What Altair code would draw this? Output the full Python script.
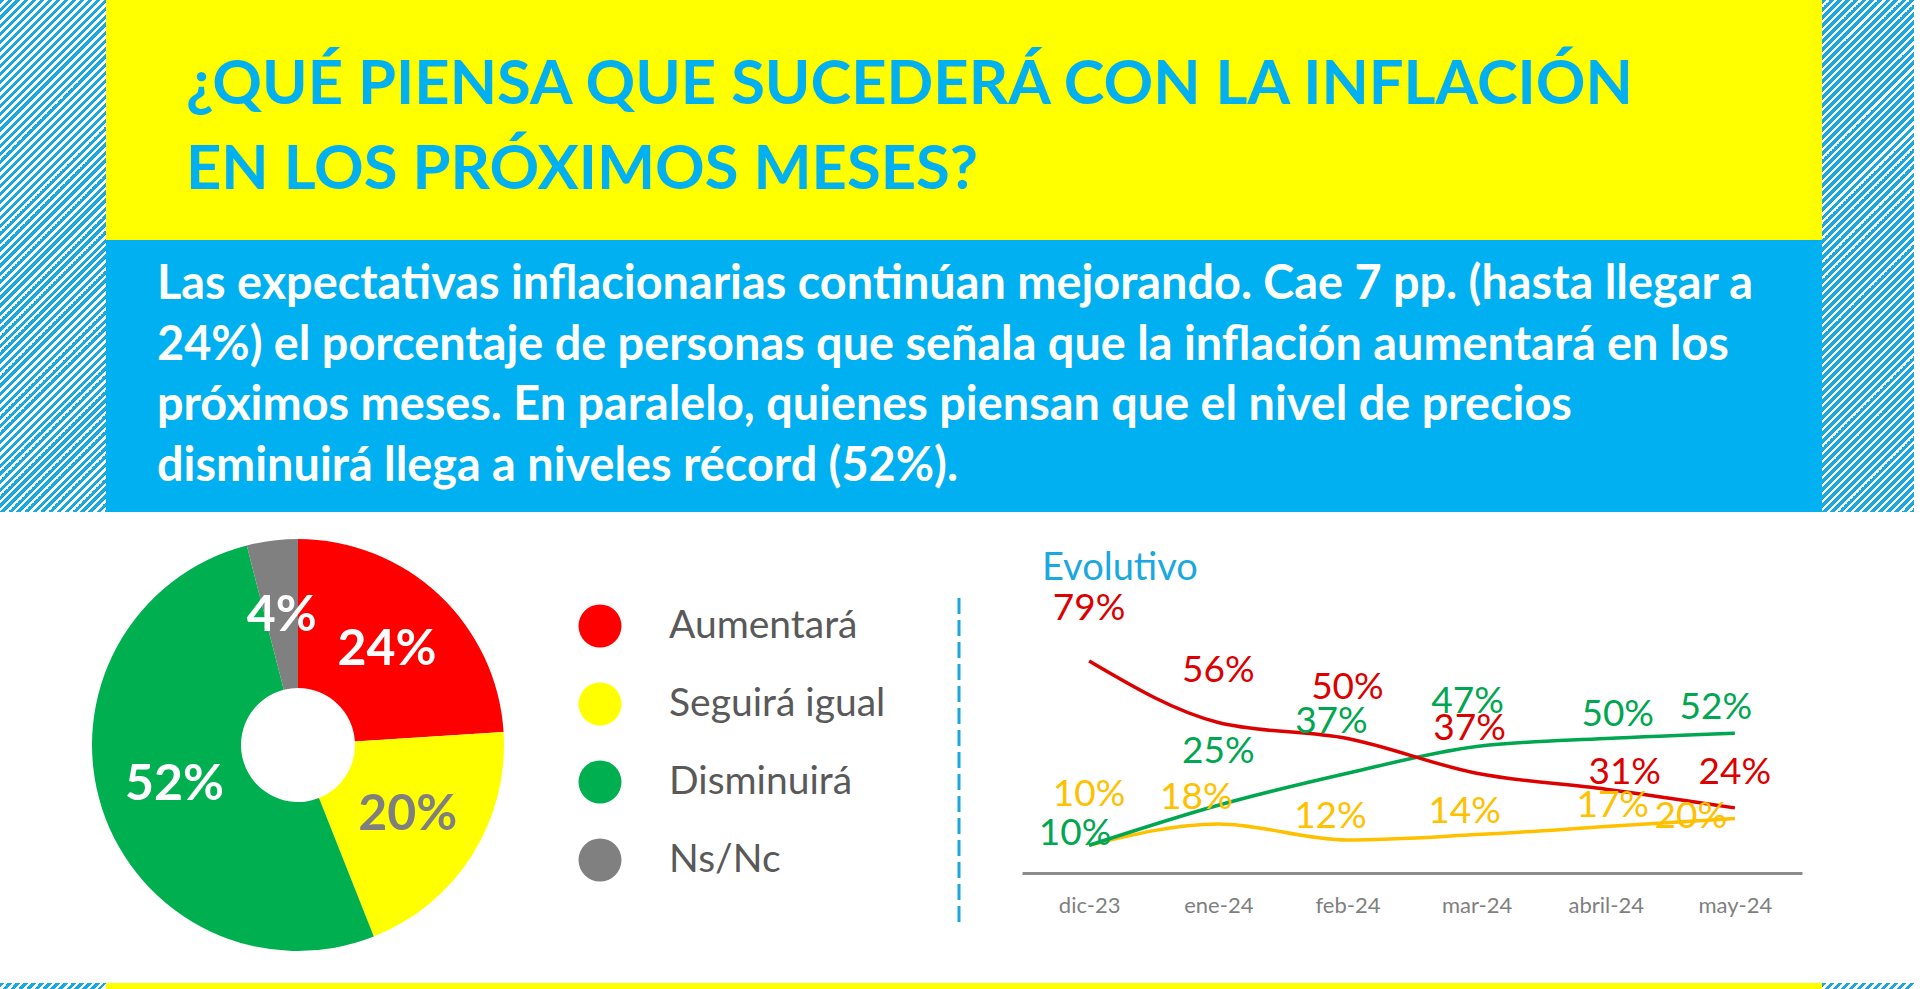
import altair as alt
import pandas as pd

# ---------------- data ----------------
title_lines = ["¿QUÉ PIENSA QUE SUCEDERÁ CON LA INFLACIÓN", "EN LOS PRÓXIMOS MESES?"]
body_lines = [
    "Las expectativas inflacionarias continúan mejorando. Cae 7 pp. (hasta llegar a",
    "24%) el porcentaje de personas que señala que la inflación aumentará en los",
    "próximos meses. En paralelo, quienes piensan que el nivel de precios",
    "disminuirá llega a niveles récord (52%).",
]

pie_categories = ["Aumentará", "Seguirá igual", "Disminuirá", "Ns/Nc"]
pie_values = [24, 20, 52, 4]
pie_colors = ["#FF0000", "#FFFF00", "#00B050", "#808080"]
pie_label_colors = ["#FFFFFF", "#7F7F7F", "#FFFFFF", "#FFFFFF"]

months = ["dic-23", "ene-24", "feb-24", "mar-24", "abril-24", "may-24"]
series_names = ["Seguirá igual", "Disminuirá", "Aumentará"]
aumentara = [79, 56, 50, 37, 31, 24]
seguira_igual = [10, 18, 12, 14, 17, 20]
disminuira = [10, 25, 37, 47, 50, 52]
line_colors = ["#FFC000", "#00A650", "#DC0000"]

# label nudges (pixels): vertical lift and horizontal shift of each value label
lift_px = {
    "Aumentará": [52, 51, 51, 44, 16, 35],
    "Disminuirá": [11, 53, 51, 45, 24, 25],
    "Seguirá igual": [50, 26, 23, 23, 21, 2],
}
shift_px = {
    "Aumentará": [0, 0, 0, -7, 19, 0],
    "Disminuirá": [-14, 0, -16, -9, 12, -19],
    "Seguirá igual": [0, -22, -17, -12, 7, -44],
}

# ---------------- layout constants ----------------
W, H = 1920, 989
CYAN = "#1BA8E0"
YELLOW = "#FFFF00"
BLUE = "#00B0F0"
Y0, Y100 = 872, 605          # y-scale range for the line chart
PX_PER_PCT = (Y0 - Y100) / 100.0

one = pd.DataFrame({"k": [0]})


def hatch(w, h, period=8.0, frac=0.55):
    denom = w + h * h / w
    stops = []
    k = 0
    while k * period <= w + h + period:
        s0 = k * period
        s1 = s0 + frac * period
        s2 = (k + 1) * period
        stops += [
            {"offset": s0 / denom, "color": CYAN},
            {"offset": s1 / denom, "color": CYAN},
            {"offset": s1 / denom, "color": "#FFFFFF"},
            {"offset": s2 / denom, "color": "#FFFFFF"},
        ]
        k += 1
    return {"gradient": "linear", "x1": 0, "y1": 0, "x2": 1, "y2": h / w, "stops": stops}


def rect(x, x2, y, y2, fill):
    return alt.Chart(one).mark_rect(fill=fill, strokeWidth=0).encode(
        x=alt.value(x), x2=alt.value(x2), y=alt.value(y), y2=alt.value(y2)
    )


backgrounds = [
    rect(0, 106, 0, 512, hatch(106, 512)),
    rect(1822, 1914, 0, 512, hatch(92, 512)),
    rect(0, 106, 983, 989, hatch(106, 6)),
    rect(1822, 1914, 983, 989, hatch(92, 6)),
    rect(106, 1822, 983, 989, YELLOW),
    rect(106, 1822, 0, 240, YELLOW),
    rect(106, 1822, 240, 512, BLUE),
]

title = alt.Chart(pd.DataFrame({"t": ["\n".join(title_lines)]})).mark_text(
    font="Lato", fontWeight="bold", fontSize=61.5, color=BLUE, align="left",
    baseline="middle", lineBreak="\n", lineHeight=85,
).encode(text="t:N", x=alt.value(186), y=alt.value(86))

body = alt.Chart(pd.DataFrame({"t": ["\n".join(body_lines)]})).mark_text(
    font="Lato", fontWeight="bold", fontSize=46.8, color="#FFFFFF", align="left",
    baseline="middle", lineBreak="\n", lineHeight=60.5,
).encode(text="t:N", x=alt.value(157), y=alt.value(285))

# ---------------- pie ----------------
pie_df = pd.DataFrame({
    "cat": pie_categories,
    "value": pie_values,
    "idx": list(range(len(pie_categories))),
    "label": [f"{v}%" for v in pie_values],
    "lcolor": pie_label_colors,
})

pie = alt.Chart(pie_df).mark_arc(outerRadius=206, innerRadius=57, strokeWidth=0).encode(
    theta=alt.Theta("value:Q", stack=True),
    order=alt.Order("idx:Q"),
    fill=alt.Fill(
        "cat:N",
        scale=alt.Scale(domain=pie_categories, range=pie_colors),
        legend=alt.Legend(
            orient="none", legendX=578, legendY=604, title=None, padding=0,
            symbolType="circle", symbolSize=1850, symbolStrokeWidth=0, symbolOpacity=1,
            labelFont="Lato", labelFontSize=39, labelColor="#595959",
            labelOffset=47, rowPadding=34, labelLimit=400,
        ),
    ),
    x=alt.value(298),
    y=alt.value(745),
)

pie_labels = alt.Chart(pie_df).mark_text(
    radius=130, font="Lato", fontWeight="bold", fontSize=50
).encode(
    theta=alt.Theta("value:Q", stack=True),
    order=alt.Order("idx:Q"),
    text="label:N",
    color=alt.Color("lcolor:N", scale=None),
    x=alt.value(298),
    y=alt.value(745),
)

divider = alt.Chart(one).mark_rule(strokeDash=[16, 6], strokeWidth=3, color=CYAN).encode(
    x=alt.value(959), y=alt.value(598), y2=alt.value(927)
)

evol = alt.Chart(pd.DataFrame({"t": ["Evolutivo"]})).mark_text(
    font="Lato", fontSize=38, color=CYAN, align="left", baseline="middle"
).encode(text="t:N", x=alt.value(1042), y=alt.value(569))

# ---------------- line chart ----------------
rows = []
vals = {"Aumentará": aumentara, "Seguirá igual": seguira_igual, "Disminuirá": disminuira}
for s in series_names:
    for i, m in enumerate(months):
        v = vals[s][i]
        rows.append({
            "month": m, "series": s, "value": v, "label": f"{v}%",
            "label_y": v + lift_px[s][i] / PX_PER_PCT, "dx": shift_px[s][i],
        })
line_df = pd.DataFrame(rows)

xenc = alt.X(
    "month:N", sort=months, title=None,
    scale=alt.Scale(type="point", range=[1022, 1802], padding=0.52),
    axis=alt.Axis(
        orient="bottom", offset=Y0 + 1 - H, domain=True, domainColor="#8C8C8C",
        domainWidth=3, ticks=False, grid=False, labelFont="Lato", labelFontSize=22,
        labelColor="#7F7F7F", labelPadding=22, labelAngle=0,
    ),
)
cenc = alt.Color("series:N", scale=alt.Scale(domain=series_names, range=line_colors), legend=None)

lines = alt.Chart(line_df).mark_line(interpolate="monotone", strokeWidth=3.5).encode(
    x=xenc,
    y=alt.Y("value:Q", scale=alt.Scale(domain=[0, 100], range=[Y0, Y100]), axis=None),
    color=cenc,
    detail="series:N",
)

line_labels = alt.Chart(line_df).mark_text(font="Lato", fontSize=37, baseline="middle").encode(
    x=alt.X("month:N", sort=months),
    y=alt.Y("label_y:Q"),
    xOffset=alt.XOffset("dx:Q", scale=None),
    text="label:N",
    color=cenc,
)

line_chart = alt.layer(lines, line_labels)

chart = alt.layer(
    *backgrounds, title, body, pie, pie_labels, divider, evol, line_chart
).resolve_scale(color="independent").properties(
    width=W, height=H, padding=0, autosize=alt.AutoSizeParams(type="none"), background="#FFFFFF"
).configure_view(stroke=None)

chart.save("out.html", embed_options={"renderer": "svg", "actions": False})
